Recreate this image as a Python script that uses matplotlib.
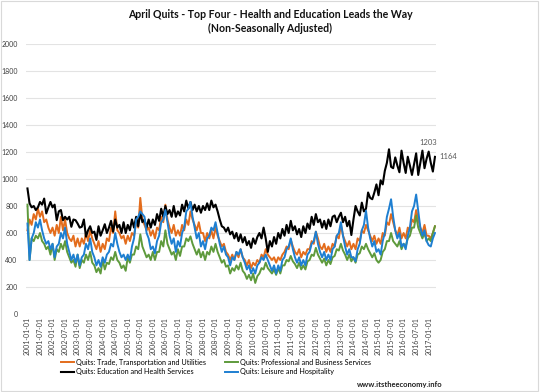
import matplotlib
matplotlib.use("Agg")
import matplotlib.pyplot as plt
from matplotlib.patches import Rectangle
import numpy as np

plt.rcParams['font.family'] = ['Lato', 'DejaVu Sans']

# Monthly data 2001-01 .. 2017-04 (thousands)
trade = [
    620, 700, 660, 740, 700, 780, 720, 760, 680, 700, 640, 600,
    640, 580, 660, 600, 720, 620, 700, 600, 560, 540, 580, 500,
    560, 500, 560, 520, 600, 540, 620, 560, 520, 480, 540, 460,
    520, 480, 560, 540, 640, 600, 760, 620, 600, 560, 580, 520,
    580, 540, 600, 580, 680, 640, 860, 700, 660, 620, 640, 580,
    620, 560, 640, 620, 720, 680, 810, 700, 640, 600, 660, 580,
    620, 580, 660, 620, 700, 660, 760, 700, 660, 620, 680, 600,
    600, 540, 600, 560, 620, 560, 640, 580, 540, 500, 520, 460,
    440, 400, 440, 400, 460, 420, 480, 420, 400, 360, 400, 340,
    380, 360, 400, 380, 440, 420, 480, 440, 420, 400, 420, 380,
    420, 400, 440, 460, 500, 480, 550, 500, 460, 440, 480, 420,
    460, 440, 480, 480, 540, 520, 610, 560, 500, 480, 520, 460,
    500, 460, 520, 500, 580, 560, 660, 580, 540, 500, 540, 480,
    520, 480, 560, 540, 620, 600, 660, 620, 580, 540, 580, 520,
    560, 520, 600, 580, 680, 660, 740, 680, 620, 580, 640, 560,
    600, 560, 640, 620, 700, 680, 770, 700, 640, 600, 660, 580,
    580, 560, 600, 650,
]
prof = [
    810, 400, 560, 540, 580, 560, 600, 540, 520, 480, 500, 440,
    520, 400, 480, 460, 520, 480, 540, 460, 420, 380, 400, 350,
    440, 340, 400, 380, 440, 400, 460, 380, 360, 310, 340, 300,
    400, 330, 380, 370, 420, 400, 460, 400, 380, 340, 360, 320,
    420, 380, 440, 440, 500, 480, 590, 500, 460, 420, 440, 400,
    460, 400, 460, 460, 540, 500, 620, 520, 480, 440, 460, 400,
    480, 430, 500, 500, 560, 540, 575, 520, 480, 440, 480, 420,
    460, 400, 460, 440, 500, 460, 520, 460, 420, 380, 400, 350,
    360, 300, 340, 320, 360, 330, 380, 320, 300, 260, 290, 250,
    300, 230, 280, 300, 340, 330, 380, 340, 320, 300, 330, 290,
    340, 300, 360, 360, 400, 390, 430, 390, 370, 340, 380, 330,
    360, 330, 390, 400, 440, 430, 490, 440, 410, 380, 410, 360,
    400, 370, 420, 430, 480, 470, 520, 470, 440, 400, 440, 390,
    420, 380, 440, 450, 500, 480, 520, 480, 450, 420, 450, 400,
    380, 400, 460, 480, 540, 540, 600, 540, 520, 500, 540, 480,
    520, 500, 560, 580, 640, 640, 730, 640, 600, 560, 600, 540,
    560, 540, 600, 650,
]
edu = [
    930, 820, 790, 800, 770, 790, 830, 810, 855, 745, 790, 830,
    790, 810, 695, 760, 770, 695, 720, 700, 720, 646, 700, 695,
    670, 640, 646, 700, 573, 620, 650, 600, 610, 549, 650, 580,
    620, 665, 600, 640, 690, 610, 700, 640, 660, 600, 680, 600,
    660, 620, 700, 640, 720, 650, 750, 680, 700, 640, 700, 640,
    700, 660, 740, 690, 780, 720, 800, 740, 770, 720, 800, 720,
    760, 730, 810, 760, 840, 780, 830, 770, 810, 760, 800, 750,
    800, 770, 820, 770, 840, 790, 810, 760, 700, 650, 640, 610,
    640, 590, 610, 560, 600, 540, 590, 530, 570, 510, 540, 490,
    560, 520, 570, 600, 560, 640, 560, 460, 540, 500, 570, 520,
    600, 560, 630, 580, 660, 600, 690, 620, 650, 590, 630, 570,
    650, 600, 670, 630, 720, 660, 740, 680, 700, 640, 690, 630,
    700, 650, 720, 730, 680, 720, 750, 680, 720, 650, 690, 585,
    700, 800, 760, 730, 825, 760, 780, 900, 860, 850, 900, 960,
    880, 990, 960, 1060, 1120, 1220, 1090, 1080, 1160, 1100, 1050, 1210,
    1120, 1045, 1165, 1100, 1030, 1110, 1190, 1030, 1120, 1210, 1080, 1150,
    1203, 1120, 1055, 1164,
]
leisure = [
    670, 400, 560, 600, 680, 640, 700, 620, 560, 520, 540, 480,
    520, 420, 500, 520, 600, 560, 640, 520, 460, 400, 440, 380,
    440, 360, 420, 440, 520, 480, 560, 460, 420, 360, 400, 350,
    420, 380, 440, 460, 520, 500, 600, 520, 460, 420, 440, 400,
    440, 400, 500, 560, 700, 720, 760, 740, 720, 600, 560, 480,
    500, 450, 540, 580, 680, 700, 770, 680, 580, 520, 560, 460,
    540, 500, 600, 640, 760, 780, 830, 720, 640, 560, 600, 500,
    540, 480, 560, 580, 640, 620, 680, 600, 520, 460, 500, 440,
    420, 360, 420, 400, 460, 440, 480, 420, 380, 330, 360, 300,
    340, 300, 360, 380, 420, 400, 440, 400, 360, 320, 360, 300,
    360, 320, 400, 420, 480, 500, 560, 480, 420, 380, 420, 360,
    400, 360, 440, 460, 520, 540, 610, 520, 460, 420, 460, 400,
    440, 400, 480, 500, 580, 600, 680, 580, 500, 440, 480, 420,
    420, 390, 480, 520, 620, 660, 765, 640, 560, 500, 540, 460,
    480, 440, 540, 600, 720, 780, 850, 720, 620, 560, 600, 500,
    520, 480, 580, 640, 760, 800, 885, 760, 640, 580, 620, 540,
    510, 500, 560, 600,
]
labels = ["Quits: Trade, Transportation and Utilities",
          "Quits: Professional and Business Services",
          "Quits: Education and Health Services",
          "Quits: Leisure and Hospitality"]
tick_labels = [f"{y}-{m:02d}-01" for y in range(2001, 2018) for m in (1, 7)][:33]

W, H = 540, 392
fig = plt.figure(figsize=(W / 100, H / 100), dpi=100)
fig.patch.set_facecolor("white")
fig.patches.append(Rectangle((0.002, 0.003), 0.994, 0.994, transform=fig.transFigure,
                             fill=False, edgecolor="#D9D9D9", linewidth=0.8))

ax = fig.add_axes([26 / W, 1 - 314 / H, (436 - 26) / W, (314 - 44) / H])
x = np.arange(len(edu))
c_or, c_gr, c_bk, c_bl = "#E36C1C", "#5E9A3C", "#000000", "#1E7FD1"
l1, = ax.plot(x, trade, color=c_or, lw=1.4, label=labels[0])
l2, = ax.plot(x, prof, color=c_gr, lw=1.4, label=labels[1])
l3, = ax.plot(x, edu, color=c_bk, lw=1.5, label=labels[2])
l4, = ax.plot(x, leisure, color=c_bl, lw=1.4, label=labels[3])

ax.set_ylim(0, 2000)
ax.set_xlim(-0.7, len(edu) - 0.5)
ax.set_yticks(np.arange(0, 2001, 200))
ax.yaxis.grid(True, color="#E3E3E3", lw=0.8)
ax.set_axisbelow(True)
for s in ax.spines.values():
    s.set_visible(False)
ax.tick_params(axis="y", length=0, labelsize=5, pad=6, colors="#404040")
ax.set_xticks(np.arange(0, 193, 6))
ax.set_xticklabels(tick_labels, rotation=90, fontsize=5, color="#404040")
ax.tick_params(axis="x", length=0, pad=2)

# annotations
i_pk = len(edu) - 4
ax.annotate(f"{edu[i_pk]}", (x[i_pk], edu[i_pk]), xytext=(0, 4), textcoords="offset points",
            ha="center", va="bottom", fontsize=5.5, color="#595959")
ax.annotate(f"{edu[-1]}", (x[-1], edu[-1]), xytext=(3, 0), textcoords="offset points",
            ha="left", va="center", fontsize=5.5, color="#595959", annotation_clip=False)

fig.text(0.5, 1 - 21.5 / H,
         "April Quits - Top Four - Health and Education Leads the Way\n(Non-Seasonally Adjusted)",
         ha="center", va="center", fontsize=7.6, fontweight="bold", linespacing=1.4, color="#111111")

fig.legend(handles=[l1, l3, l2, l4], ncol=2, loc="center", bbox_to_anchor=(216 / W, 1 - 367 / H),
           frameon=False, fontsize=5.2, handlelength=1.8, columnspacing=2.5,
           labelspacing=0.4, handletextpad=0.3)

fig.text(443 / W, 1 - 384 / H, "www.itstheeconomy.info", ha="right", va="center",
         fontsize=5.5, fontweight="bold", color="#222222")

fig.savefig("out.png", dpi=100, facecolor="white")
